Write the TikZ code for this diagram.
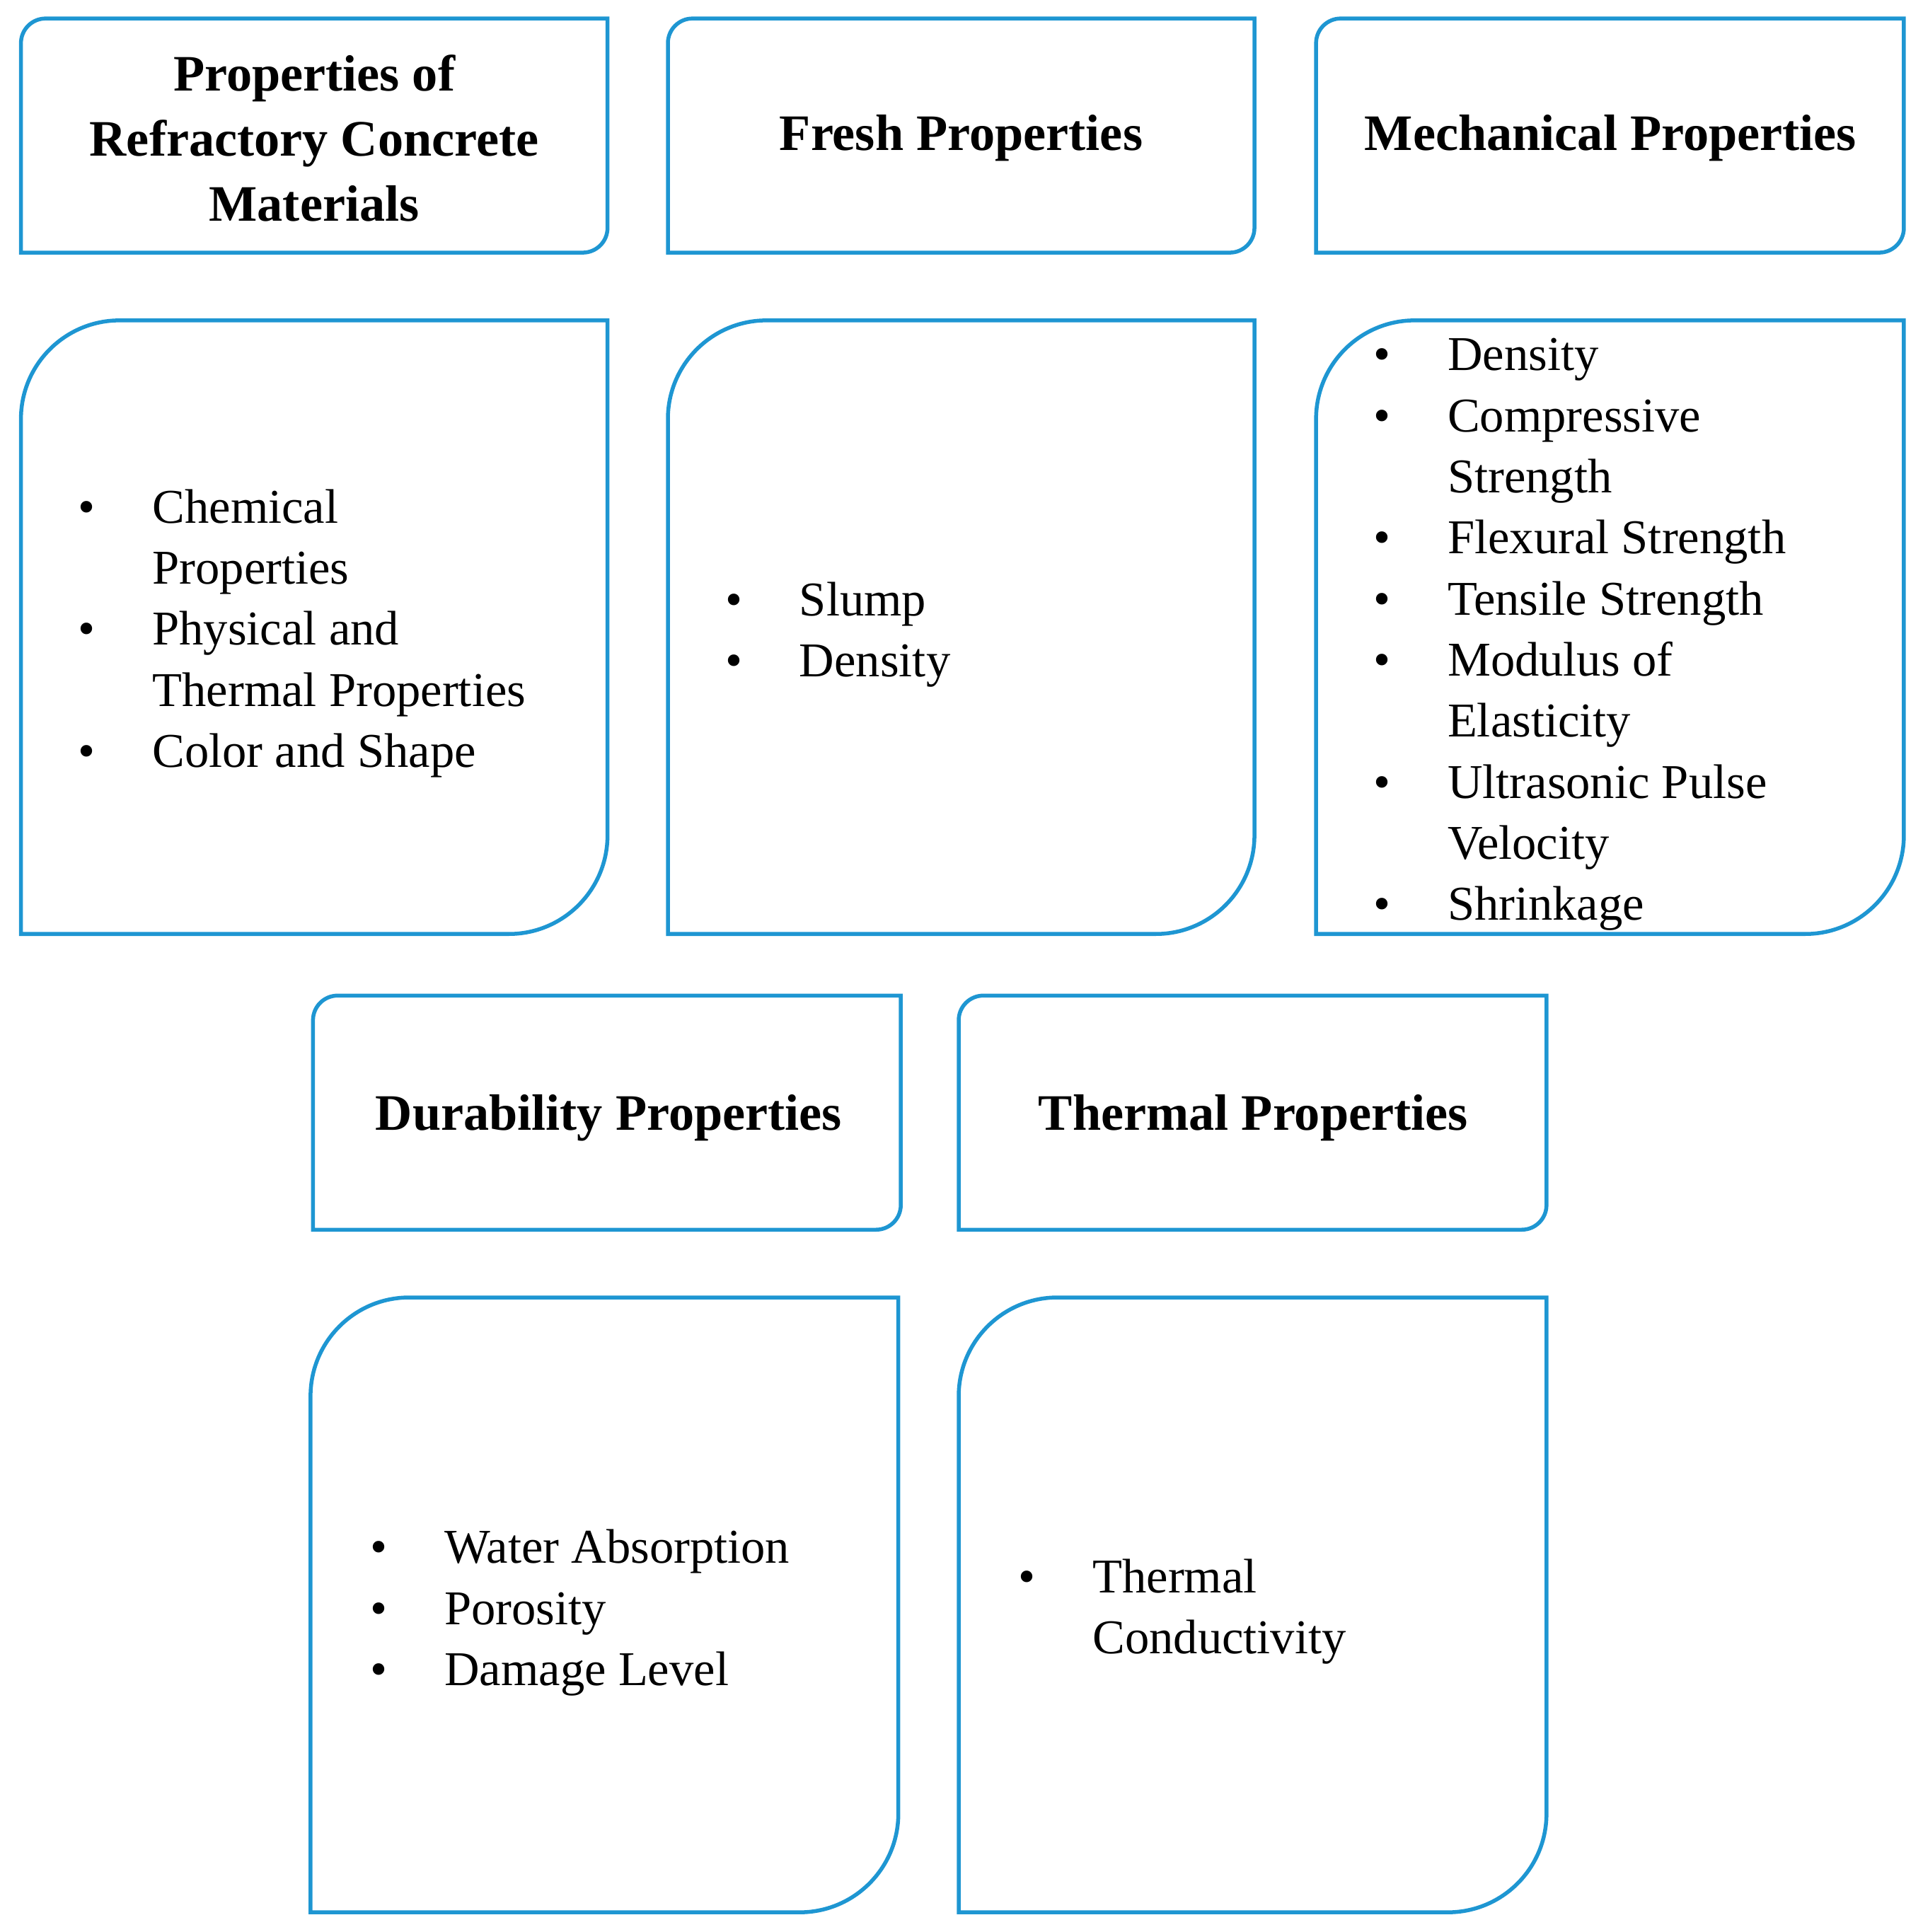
\documentclass[tikz,border=0pt]{standalone}
\usepackage{fontspec}
\setmainfont{Liberation Serif}
\usetikzlibrary{positioning}
\definecolor{boxcolor}{RGB}{30,150,210}
\tikzset{
  %% outline of every box
  boxline/.style={draw=boxcolor, line width=0.9pt},
  %% head : bold box title
  head/.style={font=\fontsize{11.8}{15}\selectfont\bfseries, align=center},
  %% items : bullet list inside a body box
  items/.style={font=\fontsize{11.2}{14.1}\selectfont, align=left, anchor=west, inner sep=0pt}
}
%% box with rounded top left and bottom right corners
\newcommand{\propbox}[5]{%
  \draw [boxline] (#1,{(#2+#4)/2}) [rounded corners=#5] -- (#1,#2) [sharp corners] -- (#3,#2)
    [rounded corners=#5] -- (#3,#4) [sharp corners] -- (#1,#4) -- cycle;}
\newcommand{\blt}[1]{\makebox[0.6cm][l]{\textbullet}#1}
\newcommand{\cnt}[1]{\hspace*{0.6cm}#1}

\begin{document}
\begin{tikzpicture}[x=0.01cm, y=-0.01cm]
  \useasboundingbox (0,0) rectangle (1560,1568);

  %% Header boxes
  \propbox{17}{15}{493}{205}{0.2cm}
  \propbox{542}{15}{1018}{205}{0.2cm}
  \propbox{1068}{15}{1545}{205}{0.2cm}
  \propbox{254}{808}{731}{998}{0.2cm}
  \propbox{778}{808}{1255}{998}{0.2cm}

  %% Body boxes
  \propbox{17}{260}{493}{758}{0.8cm}
  \propbox{542}{260}{1018}{758}{0.8cm}
  \propbox{1068}{260}{1545}{758}{0.8cm}
  \propbox{252}{1053}{729}{1552}{0.8cm}
  \propbox{778}{1053}{1255}{1552}{0.8cm}

  %% Titles
  \node (general) [head] at (255,112) {Properties of\\Refractory Concrete\\Materials};
  \node (fresh) [head] at (780,112) {Fresh Properties};
  \node (mech) [head] at (1307,112) {Mechanical Properties};
  \node (durab) [head] at (494,907) {Durability Properties};
  \node (therm) [head] at (1017,907) {Thermal Properties};

  %% Lists
  \node (generallist) [items] at (63,514) {%
    \blt{Chemical}\\ \cnt{Properties}\\ \blt{Physical and}\\
    \cnt{Thermal Properties}\\ \blt{Color and Shape}};
  \node (freshlist) [items] at (588,515) {%
    \blt{Slump}\\ \blt{Density}};
  \node (mechlist) [items] at (1114,515) {%
    \blt{Density}\\ \blt{Compressive}\\ \cnt{Strength}\\
    \blt{Flexural Strength}\\ \blt{Tensile Strength}\\
    \blt{Modulus of}\\ \cnt{Elasticity}\\
    \blt{Ultrasonic Pulse}\\ \cnt{Velocity}\\ \blt{Shrinkage}};
  \node (durablist) [items] at (300,1309) {%
    \blt{Water Absorption}\\ \blt{Porosity}\\ \blt{Damage Level}};
  \node (thermlist) [items] at (826,1308) {%
    \blt{Thermal}\\ \cnt{Conductivity}};
\end{tikzpicture}
\end{document}
